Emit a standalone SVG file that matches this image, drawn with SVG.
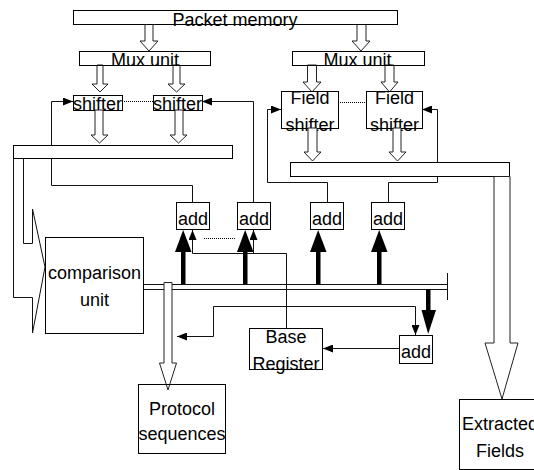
<svg xmlns="http://www.w3.org/2000/svg" width="534" height="470" viewBox="0 0 534 470">
<style>
.box{fill:#fff;stroke:#000;stroke-width:1}
.ha{fill:#fff;stroke:#222;stroke-width:1}
.ln{fill:none;stroke:#111;stroke-width:1}
.dot{fill:none;stroke:#000;stroke-width:1;stroke-dasharray:1,1}
.t{font-family:"Liberation Sans",Arial,sans-serif;font-size:18px;fill:#000;text-anchor:middle}
</style>
<defs>
<marker id="ah" markerWidth="10" markerHeight="8" refX="10" refY="4" orient="auto" markerUnits="userSpaceOnUse">
<path d="M0,0 L10,4 L0,8 Z" fill="#000"/>
</marker>
</defs>

<g id="connectors">
<!-- feedback lines from adders to shifters -->
<path class="ln" d="M192.5,202 V185.5 H51.5 V101.5 H73" marker-end="url(#ah)"/>
<path class="ln" d="M253.5,202 V101.5 H202" marker-end="url(#ah)"/>
<path class="ln" d="M327.5,202 V182.5 H267.5 V109.5 H281" marker-end="url(#ah)"/>
<path class="ln" d="M388.5,202 V182.5 H437.5 V109.5 H422" marker-end="url(#ah)"/>
<!-- base register to adders -->
<path class="ln" d="M286.5,328 V253.5 H192.5 V230" marker-end="url(#ah)"/>
<path class="ln" d="M253.5,253.5 V230" marker-end="url(#ah)"/>
<!-- lines to protocol arrow and add5 -->
<path class="ln" d="M213.5,336.5 H177" marker-end="url(#ah)"/>
<path class="ln" d="M213.5,336.5 V306.5 H415.5 V335" marker-end="url(#ah)"/>
<path class="ln" d="M399,348.5 H323" marker-end="url(#ah)"/>
<!-- dotted -->
<line class="dot" x1="122" y1="101.5" x2="153" y2="101.5"/>
<line class="dot" x1="338" y1="102.5" x2="366" y2="102.5"/>
<line class="dot" x1="204" y1="238.5" x2="236" y2="238.5"/>
<!-- hollow arrows top -->
<polygon class="ha" points="145,24 153,24 153,41 158,41 149,51 140,41 145,41"/>
<polygon class="ha" points="357,24 366,24 366,41 370,41 361,51 352,41 357,41"/>
<polygon class="ha" points="97,65 103,65 103,84 108,84 100,92 92,84 97,84"/>
<polygon class="ha" points="173,65 180,65 180,84 185,84 176.5,92 168,84 173,84"/>
<polygon class="ha" points="307.5,65 316.5,65 316.5,82 321,82 312,92 303,82 307.5,82"/>
<polygon class="ha" points="385,65 394,65 394,82 398,82 389.5,92 381,82 385,82"/>
</g>

<g id="packet-memory">
<rect class="box" x="73.5" y="10.5" width="324" height="14"/>
<text class="t" x="235" y="26">Packet memory</text>
</g>

<g id="mux-left">
<rect class="box" x="79.5" y="51.5" width="131" height="14" fill="none" style="fill:none"/>
<text class="t" x="145" y="66">Mux unit</text>
</g>
<g id="mux-right">
<rect class="box" x="292.5" y="51.5" width="132" height="14" style="fill:none"/>
<text class="t" x="357.5" y="66">Mux unit</text>
</g>

<g id="shifter-1">
<rect class="box" x="73.5" y="95.5" width="49" height="15" style="fill:none"/>
<text class="t" x="97.5" y="110">shifter</text>
</g>
<g id="shifter-2">
<rect class="box" x="153.5" y="95.5" width="49" height="15" style="fill:none"/>
<text class="t" x="177.5" y="110">shifter</text>
</g>

<g id="field-shifter-1">
<rect class="box" x="281.5" y="91.5" width="57" height="37" style="fill:none"/>
<text class="t" x="310" y="104">Field</text>
<text class="t" x="310" y="131">shifter</text>
</g>
<g id="field-shifter-2">
<rect class="box" x="366.5" y="91.5" width="56" height="37" style="fill:none"/>
<text class="t" x="394.5" y="104">Field</text>
<text class="t" x="394.5" y="131">shifter</text>
</g>

<g id="arrows-mid">
<polygon class="ha" points="95,110 103,110 103,135 108,135 99.5,143 91,135 95,135"/>
<polygon class="ha" points="175,110 183,110 183,135 187,135 178.5,143 170,135 175,135"/>
<polygon class="ha" points="308,128 317,128 317,152 321,152 312.5,161 304,152 308,152"/>
<polygon class="ha" points="393,128 401,128 401,152 406,152 397.5,161 389,152 393,152"/>
</g>

<g id="left-bar">
<rect class="box" x="13.5" y="145.5" width="219" height="13"/>
<polyline class="ln" points="23.5,158.5 23.5,243.5 32.5,243.5 32.5,209 45,267 32.5,333 32.5,297.5 13.5,297.5 13.5,158.5"/>
</g>

<g id="right-bar">
<rect class="box" x="290.5" y="162.5" width="219" height="14"/>
<polygon class="ha" points="494,176.5 510,176.5 510,343 518,343 502,399 485,343 494,343"/>
</g>

<g id="add-1">
<rect class="box" x="176.5" y="202.5" width="33" height="27"/>
<text class="t" x="193" y="225">add</text>
</g>
<g id="add-2">
<rect class="box" x="237.5" y="202.5" width="33" height="27"/>
<text class="t" x="254" y="225">add</text>
</g>
<g id="add-3">
<rect class="box" x="310.5" y="202.5" width="33" height="27"/>
<text class="t" x="327" y="225">add</text>
</g>
<g id="add-4">
<rect class="box" x="371.5" y="202.5" width="33" height="27"/>
<text class="t" x="388" y="225">add</text>
</g>

<g id="comparison-unit">
<rect class="box" x="45.5" y="237.5" width="98" height="96"/>
<text class="t" x="94.5" y="279">comparison</text>
<text class="t" x="94.5" y="306">unit</text>
</g>

<g id="bus">
<line class="ln" x1="143" y1="284.5" x2="447" y2="284.5"/>
<line class="ln" x1="143" y1="289.5" x2="447" y2="289.5"/>
<line class="ln" x1="447.5" y1="273" x2="447.5" y2="300"/>
<!-- thick arrows up -->
<g fill="#000">
<rect x="181" y="250" width="4.5" height="34"/>
<polygon points="175,252 191.5,252 183.2,230"/>
<rect x="243" y="250" width="4.5" height="34"/>
<polygon points="237,252 253.5,252 245.2,230"/>
<rect x="316" y="250" width="4.5" height="34"/>
<polygon points="310,252 326.5,252 318.2,230"/>
<rect x="377" y="250" width="4.5" height="34"/>
<polygon points="371,252 387.5,252 379.2,230"/>
<rect x="426" y="289" width="4.5" height="22"/>
<polygon points="421.5,310 436,310 428.2,334"/>
</g>
<polygon class="ha" points="164,282.5 172,282.5 172,363 176.5,363 168,390 159.5,363 164,363"/>
</g>

<g id="base-register">
<rect class="box" x="249.5" y="328.5" width="73" height="41"/>
<text class="t" x="286" y="343">Base</text>
<text class="t" x="286" y="370">Register</text>
</g>

<g id="add-5">
<rect class="box" x="399.5" y="335.5" width="33" height="28"/>
<text class="t" x="416" y="358">add</text>
</g>

<g id="protocol-sequences">
<rect class="box" x="138.5" y="384.5" width="87" height="69" style="fill:none"/>
<text class="t" x="182" y="415">Protocol</text>
<text class="t" x="182" y="440">sequences</text>
</g>

<g id="extracted-fields">
<rect class="box" x="459.5" y="399.5" width="80" height="70" style="fill:none"/>
<text class="t" x="500" y="430">Extracted</text>
<text class="t" x="500" y="457">Fields</text>
</g>
</svg>
